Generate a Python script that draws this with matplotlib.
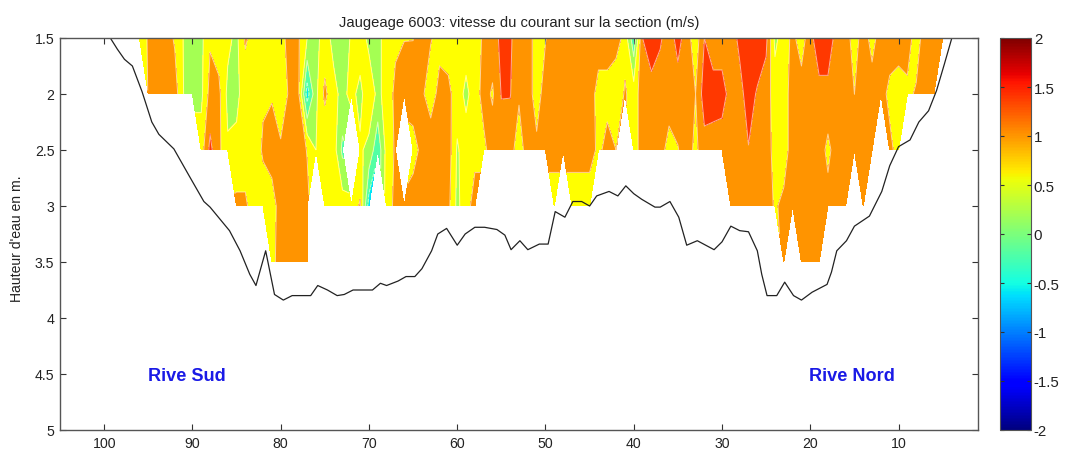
import numpy as np
import matplotlib
matplotlib.use('Agg')
import matplotlib.pyplot as plt
from matplotlib.cm import ScalarMappable
from matplotlib.colors import Normalize

plt.rcParams['font.family'] = ['Liberation Sans', 'DejaVu Sans']

n = np.nan

# distance from the bank (m) and measuring depths (m)
distance = np.arange(96, 4, -1)
depth = [1.5, 2, 2.5, 3, 3.5]

# current speed per depth, one value per metre from 96 down to 5
v_15 = [.5, .85, 1, 1, .75, .38, .3, .3, .75, .6,
        .5, .3, .85, .65, .6, .6, .65, .95, .85, .4,
        .3, .55, .3, .3, .42, .6, .3, .3, .55, .72,
        .79, .79, 1, .82, .7, .6, .6, .6, .65, .85,
        1, 1.3, 1.25, 1, 1, .6, .78, 1, 1, 1,
        1, 1, 1, 1, 1, .65, -.3, 1.2, 1.5, 1.25,
        1, 1.35, 1, .55, 1.2, 1, 1, 1, 1.3, 1.5,
        1.5, 1.3, .3, .6, .9, .6, 1.05, 1.5, 1.5, 1,
        1, .6, 1, .65, 1, 1, 1, 1, .6, 1,
        1, .95]
v_20 = [n, .82, 1, 1, 1, .4, .3, .3, .95, .9,
        .3, .3, .6, .6, .75, .78, .6, .85, .9, -.6,
        .3, .9, .5, .3, .5, .3, .65, .3, .55, .9,
        .95, 1, .85, .65, .9, .9, .6, .3, .6, .95,
        .75, 1.22, 1.22, .85, 1, .6, 1, 1, 1, 1,
        1, 1, .65, .65, .45, .85, .6, 1, 1, 1,
        1, 1, 1, .8, 1.4, 1.35, 1.35, 1.05, 1.05, 1.4,
        1.15, 1, .6, .6, 1, 1, 1, 1.05, 1.05, 1,
        1, .8, 1, 1, .95, .7, .6, .7, .85, 1,
        1, n]
v_25 = [n, n, n, n, n, n, n, .6, 1.3, .9,
        .45, .5, .65, .6, .85, .9, .85, 1, 1, .78,
        .4, .42, .6, -.1, n, .45, .3, -.3, .55, .85,
        n, .65, .9, 1, 1, 1, .35, .6, .7, .7,
        1, 1, .95, .6, 1, .9, 1, 1, 1, 1,
        1, 1, .7, .95, .8, n, .6, 1, 1, .95,
        .65, .78, 1, .7, 1.05, 1.05, 1, 1, 1, 1.18,
        1, 1, .65, .6, 1, 1, 1, 1, .7, 1,
        1, 1, 1, 1, n, .9, .65, n, n, n,
        n, n]
v_30 = [n, n, n, n, n, n, n, n, n, n,
        n, .9, .85, .65, .6, .7, .9, 1, 1, .9,
        n, .45, .6, .6, .55, .85, -.6, n, .6, .9,
        .9, 1, 1, 1, 1, .9, .3, .65, .95, n,
        n, n, n, n, n, n, n, .5, n, .5,
        .5, .5, n, n, n, n, n, n, n, n,
        n, n, n, n, n, n, n, .95, 1, 1,
        1, 1, .75, .9, .95, 1, 1, 1, .95, 1,
        1, n, 1, n, n, n, n, n, n, n,
        n, n]
v_35 = [n, n, n, n, n, n, n, n, n, n,
        n, n, n, n, n, .7, .95, 1, .95, .85,
        n, n, n, n, n, n, n, n, n, n,
        n, n, n, n, n, n, n, n, n, n,
        n, n, n, n, n, n, n, n, n, n,
        n, n, n, n, n, n, n, n, n, n,
        n, n, n, n, n, n, n, n, n, n,
        n, n, n, .85, n, 1, 1, 1, n, n,
        n, n, n, n, n, n, n, n, n, n,
        n, n]

# river bed
bed_x = [99.3, 98.5, 97.7, 96.8, 95.7, 94.6, 93.8, 92.1, 90.3, 88.7, 88.0, 85.8,
         84.6, 83.5, 82.8, 81.7, 80.7, 79.7, 78.7, 77.6, 76.6, 75.8, 74.7, 73.6,
         72.8, 71.8, 70.7, 69.6, 68.7, 68.0, 66.7, 65.8, 64.8, 64.0, 62.9, 62.2,
         61.2, 60.0, 59.1, 58.0, 56.9, 55.5, 54.6, 53.9, 52.9, 52.0, 50.7, 49.7,
         48.9, 47.8, 46.9, 45.9, 45.0, 44.2, 42.8, 41.8, 40.9, 40.0, 39.1, 37.6,
         37.0, 35.9, 34.9, 34.0, 32.8, 30.9, 30.0, 29.0, 28.0, 27.0, 26.0, 25.5,
         24.9, 23.8, 22.9, 21.9, 21.0, 19.8, 18.1, 17.6, 17.0, 15.9, 15.0, 13.3,
         11.9, 11.0, 10.0, 8.7, 7.7, 6.6, 5.7, 4.8, 4.0]
bed_z = [1.50, 1.60, 1.69, 1.75, 1.98, 2.25, 2.36, 2.49, 2.74, 2.96, 3.01, 3.22,
         3.40, 3.61, 3.71, 3.40, 3.79, 3.84, 3.80, 3.80, 3.80, 3.71, 3.75, 3.80,
         3.79, 3.75, 3.75, 3.75, 3.69, 3.71, 3.67, 3.63, 3.63, 3.56, 3.40, 3.25,
         3.20, 3.35, 3.25, 3.19, 3.19, 3.21, 3.26, 3.39, 3.31, 3.39, 3.34, 3.34,
         3.05, 3.10, 2.96, 2.96, 3.00, 2.91, 2.87, 2.91, 2.82, 2.89, 2.94, 3.01,
         3.01, 2.96, 3.10, 3.35, 3.31, 3.39, 3.32, 3.18, 3.22, 3.23, 3.40, 3.61,
         3.80, 3.80, 3.68, 3.80, 3.84, 3.77, 3.70, 3.59, 3.40, 3.31, 3.18, 3.09,
         2.87, 2.64, 2.47, 2.41, 2.25, 2.15, 1.97, 1.73, 1.51]

xticks = [100, 90, 80, 70, 60, 50, 40, 30, 20, 10]
yticks = [1.5, 2, 2.5, 3, 3.5, 4, 4.5, 5]
yticklabels = ['1.5', '2', '2.5', '3', '3.5', '4', '4.5', '5']
cbticks = [-2, -1.5, -1, -0.5, 0, 0.5, 1, 1.5, 2]
cblabels = ['-2', '-1.5', '-1', '-0.5', '0', '0.5', '1', '1.5', '2']
levels = np.linspace(-2, 2, 11)

# jet at the middle of each band, the 0.4-0.8 band is plain yellow in the original
bands = [matplotlib.colormaps['jet']((l + 0.2 + 2) / 4) for l in levels[:-1]]
bands[6] = '#ffff00'

W, H = 1065, 452
fig = plt.figure(figsize=(W / 100, H / 100), dpi=100)
ax = fig.add_axes([60 / W, 1 - 431 / H, 918 / W, 392 / H])
cax = fig.add_axes([1000 / W, 1 - 431 / H, 31 / W, 392 / H])

speed = np.ma.masked_invalid(np.array([v_15, v_20, v_25, v_30, v_35]))
ax.contourf(distance, depth, speed, levels=levels, colors=bands)
ax.contour(distance, depth, speed, levels=levels, colors='white', linewidths=0.7, alpha=0.6)
ax.plot(bed_x, bed_z, color='#222222', lw=0.9)

ax.set_xlim(105, 1)
ax.set_ylim(5, 1.5)
ax.set_xticks(xticks)
ax.set_yticks(yticks)
ax.set_yticklabels(yticklabels)
ax.tick_params(direction='in', top=True, right=True, length=4.5, width=0.8,
               color='#333333', labelsize=10.2, labelcolor='#222222', pad=4)
for s in ax.spines.values():
    s.set_color('#555555')
    s.set_linewidth(1)

ax.set_title('Jaugeage 6003: vitesse du courant sur la section (m/s)', fontsize=10.6,
             color='#222222', pad=8.5)
ax.text(17 / W, 1 - 239 / H, "Hauteur d'eau en m.", fontsize=10.1, color='#222222',
        rotation=90, ha='center', va='center', transform=fig.transFigure)
ax.text(95, 4.51, 'Rive Sud', color='#1a1ae6', fontsize=13.1, fontweight='bold', va='center')
ax.text(20.1, 4.51, 'Rive Nord', color='#1a1ae6', fontsize=13.1, fontweight='bold', va='center')

cb = fig.colorbar(ScalarMappable(Normalize(-2, 2), 'jet'), cax=cax)
cb.set_ticks(cbticks)
cb.set_ticklabels(cblabels)
cax.tick_params(direction='in', left=True, right=True, length=3, width=0.8,
                color='#333333', labelsize=10.8, labelcolor='#222222', pad=2)
cb.outline.set_edgecolor('#555555')

fig.savefig('out.png', dpi=100)
